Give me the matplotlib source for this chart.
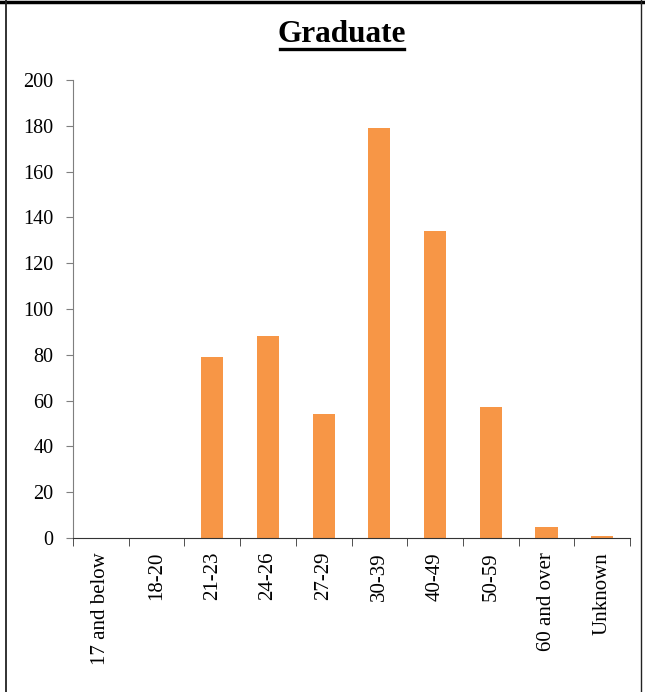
import matplotlib.pyplot as plt
from matplotlib.lines import Line2D

categories = ["17 and below", "18-20", "21-23", "24-26", "27-29",
              "30-39", "40-49", "50-59", "60 and over", "Unknown"]
counts = [0, 0, 79, 88, 54, 179, 134, 57, 5, 1]
yticks = list(range(0, 201, 20))

plt.rcParams['font.family'] = ['Liberation Serif', 'DejaVu Serif']

fig = plt.figure(figsize=(6.45, 6.92), dpi=100)
ax = fig.add_axes([73/645, 1 - 538/692, 557/645, 458/692])

x = list(range(len(categories)))
ax.bar(x, counts, width=0.4, color='#f79646')

ax.set_xlim(-0.5, len(categories) - 0.5)
ax.set_ylim(0, 200)
ax.set_yticks(yticks)
ax.set_yticklabels([str(v) for v in yticks], fontsize=14.5)
ax.set_xticks(x)
ax.set_xticklabels(categories, rotation=90, fontsize=15)
ax.tick_params(axis='x', length=0, pad=10)
ax.tick_params(axis='y', length=5, color='#7f7f7f', pad=9)

# boundary ticks between categories
ax.set_xticks([i - 0.5 for i in range(len(categories) + 1)], minor=True)
ax.tick_params(axis='x', which='minor', length=6, direction='out', color='#333333')

for s in ['top', 'right']:
    ax.spines[s].set_visible(False)
ax.spines['left'].set_color('#7f7f7f')
ax.spines['bottom'].set_color('#333333')

fig.text(342/645, 1 - 34/692, "Graduate", ha='center', va='center',
         fontsize=22.5, fontweight='bold')
# underline
fig.add_artist(Line2D([280/645, 404/645], [1 - 48.5/692, 1 - 48.5/692],
                      color='black', lw=2.4, transform=fig.transFigure))

# frame lines
fig.add_artist(Line2D([0, 1], [1 - 1.5/692, 1 - 1.5/692], color='black',
                      lw=2.5, transform=fig.transFigure))
fig.add_artist(Line2D([6/645, 6/645], [0, 1], color='#222222', lw=1.3,
                      transform=fig.transFigure))
fig.add_artist(Line2D([641/645, 641/645], [0, 1], color='#222222', lw=1.0,
                      transform=fig.transFigure))

fig.savefig('out.png', dpi=100)
